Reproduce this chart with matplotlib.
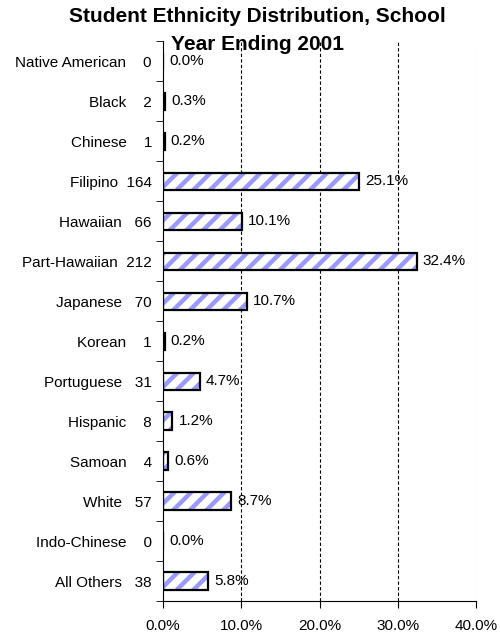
import matplotlib.pyplot as plt
import numpy as np

plt.rcParams['font.family'] = ['Liberation Sans', 'DejaVu Sans']
plt.rcParams['hatch.linewidth'] = 3.2

groups = ['Native American', 'Black', 'Chinese', 'Filipino', 'Hawaiian', 'Part-Hawaiian',
          'Japanese', 'Korean', 'Portuguese', 'Hispanic', 'Samoan', 'White',
          'Indo-Chinese', 'All Others']
counts = [0, 2, 1, 164, 66, 212, 70, 1, 31, 8, 4, 57, 0, 38]
pcts = [0.0, 0.3, 0.2, 25.1, 10.1, 32.4, 10.7, 0.2, 4.7, 1.2, 0.6, 8.7, 0.0, 5.8]

fig = plt.figure(figsize=(5, 6.34), dpi=100)
ax = fig.add_axes([0.326, 0.052, 0.626, 0.883])

y = np.arange(len(groups))
ax.barh(y, pcts, height=0.43, color='white', edgecolor='#9999FF', hatch='//', linewidth=0, zorder=2)
ax.barh(y, pcts, height=0.43, color='none', edgecolor='black', linewidth=1.6, zorder=3)

for yi, p in zip(y, pcts):
    ax.text(p + 0.8, yi, f'{p:.1f}%', va='center', ha='left', fontsize=11, zorder=4)

ax.set_ylim(len(groups) - 0.5, -0.5)
ax.set_xlim(0, 40)
ax.set_xticks([0, 10, 20, 30, 40])
ax.set_xticklabels([f'{v:.1f}%' for v in [0, 10, 20, 30, 40]], fontsize=11)

# count column sits right-aligned next to the names
labels = []
for g, c in zip(groups, counts):
    if c >= 100:
        gap = '  '
    elif c >= 10:
        gap = '   '
    else:
        gap = '    '
    labels.append(f'{g}{gap}{c}')
ax.set_yticks(y)
ax.set_yticklabels(labels, fontsize=11)
ax.tick_params(axis='y', length=0, pad=8)
ax.set_yticks(np.arange(-0.5, len(groups)), minor=True)
ax.tick_params(axis='y', which='minor', length=5, direction='out')
ax.tick_params(axis='x', length=5, direction='out', pad=8)

for gx in [10, 20, 30]:
    ax.axvline(gx, color='black', linestyle=(0, (3, 2)), linewidth=0.8, zorder=1)
ax.axvline(40, color='#bbbbbb', linestyle=(0, (3, 2)), linewidth=0.8, zorder=1)

ax.spines['top'].set_visible(False)
ax.spines['right'].set_visible(False)

fig.text(0.515, 0.989, 'Student Ethnicity Distribution, School\nYear Ending 2001',
         ha='center', va='top', fontsize=15, fontweight='bold', linespacing=1.6)

fig.savefig('out.png', dpi=100)
